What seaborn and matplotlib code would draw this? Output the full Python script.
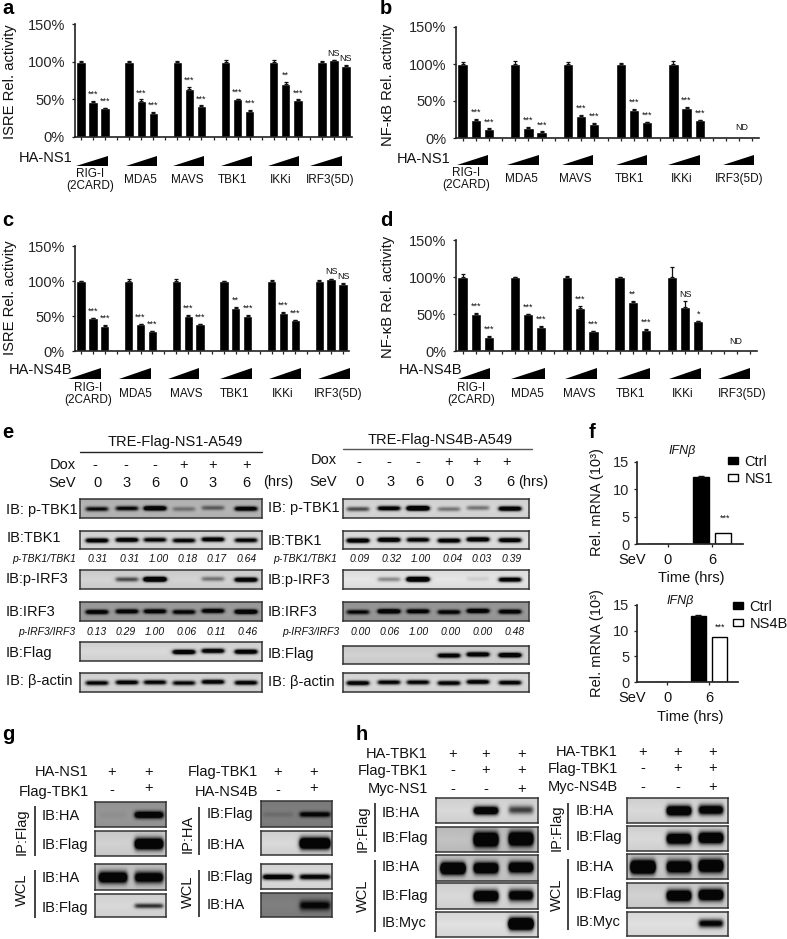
"""Multi-panel figure: reporter assays, western blots and qPCR bars."""
import numpy as np
import pandas as pd
import matplotlib
matplotlib.use('Agg')
import matplotlib.pyplot as plt
import seaborn as sns

W, H = 787, 939

# --- reporter assay values (% of control), one row per stimulus
GROUPS = ['RIG-I\n(2CARD)', 'MDA5', 'MAVS', 'TBK1', 'IKKi', 'IRF3(5D)']
A_VALUES = [[100, 47, 38], [100, 48, 32], [100, 64, 41], [100, 50, 35], [100, 70, 49], [100, 102, 94]]
A_ERRORS = [[1, 1, 1], [1.5, 2, 1], [1.5, 2, 1], [2.5, 1, 1], [2, 3, 1], [1, 0.5, 1]]
A_MARKS = [['', '***', '***'], ['', '***', '***'], ['', '***', '***'], ['', '***', '***'], ['', '**', '***'], ['', 'NS', 'NS']]
B_VALUES = [[100, 25, 12], [100, 14, 8], [100, 30, 19], [100, 38, 21], [100, 41, 24]]
B_ERRORS = [[2.5, 1, 1], [4, 1, 1], [2.5, 1, 1], [2, 1, 1], [4, 1, 1]]
B_MARKS = [['', '***', '***']] * 5
C_VALUES = [[100, 47, 36], [100, 38, 28], [100, 50, 38], [100, 62, 50], [100, 55, 44], [100, 103, 96]]
C_ERRORS = [[0.5, 0.5, 1], [3, 1, 0.5], [3, 1, 0.5], [0.5, 1.5, 1], [1.5, 1, 0.5], [1, 0.5, 1]]
C_MARKS = [['', '***', '***'], ['', '***', '***'], ['', '***', '***'], ['', '**', '***'], ['', '***', '***'], ['', 'NS', 'NS']]
D_VALUES = [[100, 50, 19], [100, 50, 33], [100, 58, 27], [100, 66, 29], [100, 60, 40]]
D_ERRORS = [[4, 2, 1.5], [0.5, 0.5, 0.5], [2, 3, 0.5], [0.5, 1.5, 0.5], [14, 8, 1]]
D_MARKS = [['', '***', '***'], ['', '***', '***'], ['', '***', '***'], ['', '**', '***'], ['', 'NS', '*']]

# --- qPCR values (panel f)
F_TIMES = ['0', '6']
F1_CTRL = [0, 12.2]
F1_NS1 = [0, 2.1]
F2_CTRL = [0, 12.8]
F2_NS4B = [0, 8.7]

# --- blot band strengths, read by eye (lanes left to right)
E_LABELS_DOX = ['-', '-', '-', '+', '+', '+']
E_LABELS_SEV = ['0', '3', '6', '0', '3', '6']
E1_RATIO_TBK1 = ['0.31', '0.31', '1.00', '0.18', '0.17', '0.64']
E1_RATIO_IRF3 = ['0.13', '0.29', '1.00', '0.06', '0.11', '0.46']
E2_RATIO_TBK1 = ['0.09', '0.32', '1.00', '0.04', '0.03', '0.39']
E2_RATIO_IRF3 = ['0.00', '0.06', '1.00', '0.00', '0.00', '0.48']
E1_BANDS = [[.75, .8, 1.2, .3, .4, 1.0], [1.0, 1.0, .85, .85, 1.0, .85], [0, .5, 1.5, 0, .35, 1.1],
            [1.0, 1.0, 1.0, .9, 1.0, 1.2], [0, 0, 0, 1.1, 1.0, 1.1], [.85, .9, .85, .8, .95, .9]]
E1_BACK = [.72, .86, .83, .62, .85, .85]
E2_BANDS = [[.5, .95, 1.4, .35, .35, 1.1], [1.1, 1.1, .9, 1.0, 1.1, 1.0], [0, .3, 1.5, 0, .08, 1.0],
            [.8, 1.2, 1.0, .9, 1.1, 1.0], [0, 0, 0, 1.0, 1.1, 1.2], [.95, .85, .85, .9, .95, .9]]
E2_BACK = [.85, .88, .9, .6, .82, .86]
G1_BANDS = [[.05, 1.2], [0, 1.4], [1.3, 1.1], [0, .6]]
G1_BACK = [.6, .82, .78, .85]
G2_BANDS = [[.12, .9], [0, 1.5], [1.0, .9], [0, .85]]
G2_BACK = [.5, .85, .87, .5]
H1_BANDS = [[0, 1.2, .55], [0, 1.6, 1.5], [1.8, 1.4, 1.3], [0, 1.4, 1.1], [0, 0, 1.8]]
H1_BACK = [.85, .76, .78, .85, .88]
H2_BANDS = [[0, 1.4, 1.1], [0, 1.3, 1.4], [1.8, 1.3, 1.5], [0, 1.4, 1.4], [0, 0, .85]]
H2_BACK = [.85, .85, .8, .82, .88]

sns.set_theme(style='white')
plt.rcParams['font.family'] = ['Liberation Sans', 'DejaVu Sans']
plt.rcParams['text.color'] = '#111111'

fig = plt.figure(figsize=(W / 100, H / 100), dpi=100)


def px_axes(x0, y0, x1, y1):
    """Axes placed by pixel box, y measured from the top of the figure."""
    return fig.add_axes([x0 / W, 1 - y1 / H, (x1 - x0) / W, (y1 - y0) / H])


def assay_panel(box, values, errors, marks, ylabel_text):
    x0, y0, x1, y1 = box
    ax = px_axes(x0, y0, x1, y1)
    rows = []
    for g, vals in enumerate(values):
        for j, v in enumerate(vals):
            rows.append({'slot': g * 4 + j, 'value': v, 'err': errors[g][j], 'mark': marks[g][j]})
    df = pd.DataFrame(rows)
    sns.barplot(data=df, x='slot', y='value', order=list(range(23)), color='black',
                saturation=1, width=0.78, errorbar=None, ax=ax)
    ax.errorbar(df['slot'], df['value'], yerr=[np.zeros(len(df)), df['err']], fmt='none',
                ecolor='#111111', elinewidth=0.9, capsize=1.5, capthick=0.9)
    for _, r in df.iterrows():
        if r['mark']:
            ms = 6.4 if r['mark'] == 'NS' else 6.5
            ax.annotate(r['mark'], (r['slot'], r['value'] + r['err']), xytext=(0, 1.5),
                        textcoords='offset points', ha='center', va='bottom', fontsize=ms)
    ax.set_xlim(-0.5, 22.5)
    ax.set_ylim(0, 150)
    ax.set_yticks([0, 50, 100, 150])
    ax.set_yticklabels(['0%', '50%', '100%', '150%'], fontsize=10.5)
    ax.set_xticklabels([])
    ax.set_xlabel('')
    ax.set_ylabel('')
    ax.tick_params(axis='both', length=2.5, width=0.9, bottom=True, left=True, color='#222222', pad=1.5)
    ax.tick_params(axis='y', pad=4.7)
    ax.patch.set_alpha(0)
    sns.despine(ax=ax)
    for s in ['left', 'bottom']:
        ax.spines[s].set_color('#222222')
        ax.spines[s].set_linewidth(1.2)
    return ax


def qpcr_panel(box, xlim, ctrl, treat, treat_name, legend_xy):
    x0, y0, x1, y1 = box
    ax = px_axes(x0, y0, x1, y1)
    df = pd.DataFrame({'time': F_TIMES * 2, 'value': ctrl + treat,
                       'group': ['Ctrl'] * 2 + [treat_name] * 2})
    sns.barplot(data=df, x='time', y='value', hue='group', palette=['black', 'white'], saturation=1,
                width=1.0, gap=0.3, edgecolor='black', linewidth=1, errorbar=None, ax=ax)
    ax.errorbar([0.75], [ctrl[1]], yerr=[[0], [0.3]], fmt='none', ecolor='#111111', elinewidth=0.9, capsize=2.5)
    ax.set_xlim(*xlim)
    ax.set_ylim(0, 15)
    ax.set_yticks([0, 5, 10, 15])
    ax.set_yticklabels(['0', '5', '10', '15'], fontsize=10.5)
    ax.set_xticklabels([])
    ax.set_xlabel('')
    ax.set_ylabel('')
    ax.tick_params(axis='both', length=2.5, width=0.9, bottom=True, left=True, color='#222222', pad=3)
    ax.patch.set_alpha(0)
    sns.despine(ax=ax)
    handles, labels = ax.get_legend_handles_labels()
    ax.legend(handles, labels, loc='upper left', bbox_to_anchor=(legend_xy[0] / W, 1 - legend_xy[1] / H),
              bbox_transform=fig.transFigure, frameon=False, fontsize=10.5, handlelength=0.7,
              handleheight=0.35, handletextpad=0.42, labelspacing=0.2, borderpad=0, borderaxespad=0)
    return ax


def blot(x0, y0, x1, y1, lanes, bands, back, half, sigma):
    """One blot strip drawn as a grey heatmap, 1 cell per pixel."""
    ax = px_axes(x0, y0, x1, y1)
    nx, ny = int(x1 - x0), int(y1 - y0)
    xs = np.arange(nx)[None, :] + x0 + 0.5
    ys = np.arange(ny)[:, None] + 0.5
    dark = np.zeros((ny, nx))
    for lane, strength in zip(lanes, bands):
        across = 0.5 * (np.tanh((xs - lane + half) / 2.2) - np.tanh((xs - lane - half) / 2.2))
        # bands are a little thinner at the ends
        yc = ny * 0.5 + 0.6 * np.sin((lane - x0) * 0.13)
        down = np.exp(-((ys - yc) ** 2) / (2 * sigma ** 2))
        dark = dark + strength * across * down
    dark = np.clip(dark * 1.35, 0, 1)
    side = 1 - 0.05 * np.abs(ys / ny - 0.5) * 2
    img = back * side * (1 - dark) + 0.02 * dark
    sns.heatmap(img, vmin=0, vmax=1, cmap='gray', cbar=False, xticklabels=False, yticklabels=False, ax=ax)
    for s in ax.spines.values():
        s.set_visible(True)
        s.set_color('#333333')
        s.set_linewidth(1.1)
    return ax


assay_panel((75, 24, 352, 137), A_VALUES, A_ERRORS, A_MARKS, 'ISRE Rel. activity')
assay_panel((456, 27, 759, 138), B_VALUES, B_ERRORS, B_MARKS, 'NF-κB Rel. activity')
assay_panel((75, 246, 349, 351), C_VALUES, C_ERRORS, C_MARKS, 'ISRE Rel. activity')
assay_panel((456, 240, 757, 351), D_VALUES, D_ERRORS, D_MARKS, 'NF-κB Rel. activity')

qpcr_panel((637, 462, 743, 544), (-0.70, 1.70), F1_CTRL, F1_NS1, 'NS1', (728, 455))
qpcr_panel((637, 605, 738, 682), (-0.71, 1.69), F2_CTRL, F2_NS4B, 'NS4B', (733, 600))

# --- western blots
E_ROWS_1 = [(499, 518), (531, 549), (570, 589), (602, 621), (642, 661), (673, 692)]
E_ROWS_2 = [(499, 518), (531, 549), (570, 589), (602, 621), (646, 664), (673, 692)]
E1_LANES = [97, 127, 155, 184, 213, 246]
E2_LANES = [358, 389, 418, 449, 478, 510]
for (y0, y1), b, bg in zip(E_ROWS_1, E1_BANDS, E1_BACK):
    blot(80, y0, 262, y1, E1_LANES, b, bg, 11, 1.7)
for (y0, y1), b, bg in zip(E_ROWS_2, E2_BANDS, E2_BACK):
    blot(343, y0, 529, y1, E2_LANES, b, bg, 11, 1.7)

G1_ROWS = [(802, 827), (831, 856), (864, 890), (894, 917)]
G2_ROWS = [(801, 827), (831, 855), (864, 889), (893, 917)]
for (y0, y1), b, bg, sg in zip(G1_ROWS, G1_BANDS, G1_BACK, [2.5, 4, 4, 1.8]):
    blot(95, y0, 166, y1, [113, 149], b, bg, 14, sg)
for (y0, y1), b, bg, sg in zip(G2_ROWS, G2_BANDS, G2_BACK, [2, 4, 2, 3.5]):
    blot(261, y0, 332, y1, [278, 315], b, bg, 15, sg)

H1_ROWS = [(798, 823), (827, 852), (855, 881), (883, 909), (912, 937)]
H2_ROWS = [(798, 823), (826, 851), (854, 879), (883, 908), (912, 936)]
for (y0, y1), b, bg, sg in zip(H1_ROWS, H1_BANDS, H1_BACK, [3, 5, 4, 4, 4]):
    blot(436, y0, 538, y1, [453, 486, 521], b, bg, 12, sg)
for (y0, y1), b, bg, sg in zip(H2_ROWS, H2_BANDS, H2_BACK, [3.5, 4, 4.5, 4, 3]):
    blot(627, y0, 728, y1, [643, 679, 711], b, bg, 12, sg)

# --- everything else lives on one overlay in pixel coordinates
ov = fig.add_axes([0, 0, 1, 1], zorder=10)
ov.set_xlim(0, W)
ov.set_ylim(H, 0)
ov.axis('off')
ov.patch.set_alpha(0)


def T(x, y, s, ha='left', size=10.5, **kw):
    ov.text(x, y, s, ha=ha, va='center', fontsize=size, **kw)


def wedge(x0, x1, y_low, y_high):
    ov.fill([x0, x1, x1], [y_low, y_low, y_high], color='black', lw=0)


def vline(x, y0, y1):
    ov.plot([x, x], [y0, y1], color='#222222', lw=1.2, solid_capstyle='butt')


for s, x, y in [('a', 2, 9), ('b', 380, 9), ('c', 2, 220), ('d', 380, 220),
                ('e', 2, 433), ('f', 589, 432), ('g', 2, 734), ('h', 356, 734)]:
    T(x, y, s, size=14.5, fontweight='bold', color='black')

for x, y, s in [(10, 82, 'ISRE Rel. activity'), (388, 85, 'NF-κB Rel. activity'),
                (10, 298, 'ISRE Rel. activity'), (388, 297, 'NF-κB Rel. activity')]:
    T(x, y, s, ha='center', rotation=90, size=10.6)

# wedges and stimulus names under each assay panel
A_WEDGES = [(76, 108), (126, 157), (173, 204), (221, 252), (268, 299), (310, 342)]
B_WEDGES = [(457, 488), (507, 539), (562, 593), (616, 647), (668, 700), (723, 754)]
C_WEDGES = [(68, 101), (119, 151), (168, 199), (220, 252), (269, 301), (318, 350)]
D_WEDGES = [(458, 490), (511, 545), (565, 597), (617, 650), (669, 701), (718, 750)]
for w, yl, yh in [(A_WEDGES, 166, 156), (B_WEDGES, 165, 155), (C_WEDGES, 379, 368), (D_WEDGES, 379, 368)]:
    for x0, x1 in w:
        wedge(x0, x1, yl, yh)
T(72, 158, 'HA-NS1', ha='right')
T(451, 159, 'HA-NS1', ha='right')
T(72, 370, 'HA-NS4B', ha='right')
T(462, 370, 'HA-NS4B', ha='right')

A_NAME_X = [90, 140, 187, 233, 281, 330]
B_NAME_X = [466, 521, 575, 630, 682, 739]
C_NAME_X = [88, 135, 186, 235, 283, 338]
D_NAME_X = [471, 527, 579, 631, 683, 742]
for xs, y1 in [(A_NAME_X, 180), (B_NAME_X, 179), (C_NAME_X, 394), (D_NAME_X, 394)]:
    for x, name in zip(xs, GROUPS):
        T(x, y1, name, ha='center', size=8.5, linespacing=0.95)
T(742, 127, 'ND', ha='center', size=6.4)
T(736, 341, 'ND', ha='center', size=6.4)

# panel e headers
T(175, 442, 'TRE-Flag-NS1-A549', ha='center')
ov.plot([80, 262], [452, 452], color='#222222', lw=1)
T(440, 440, 'TRE-Flag-NS4B-A549', ha='center')
ov.plot([343, 532], [449, 449], color='#555555', lw=1)
T(76, 465, 'Dox', ha='right')
T(76, 483, 'SeV', ha='right')
T(337, 460, 'Dox', ha='right')
T(337, 482, 'SeV', ha='right')
for x, d in zip([95, 126, 155, 184, 213, 247], E_LABELS_DOX):
    T(x, 465, d, ha='center')
for x, s in zip([97, 127, 155, 184, 213, 246], E_LABELS_SEV):
    T(x, 483, s, ha='center')
for x, d in zip([359, 389, 418, 449, 477, 507], E_LABELS_DOX):
    T(x, 462, d, ha='center')
for x, s in zip([359, 391, 419, 449, 478, 510], E_LABELS_SEV):
    T(x, 482, s, ha='center')
T(278, 482, '(hrs)', ha='center')
T(533, 482, '(hrs)', ha='center')

for x, y, s in [(6, 510, 'IB: p-TBK1'), (7, 538, 'IB:TBK1'), (6, 579, 'IB:p-IRF3'), (6, 612, 'IB:IRF3'),
                (6, 653, 'IB:Flag'), (6, 681, 'IB: β-actin'),
                (268, 508, 'IB: p-TBK1'), (268, 541, 'IB:TBK1'), (268, 580, 'IB:p-IRF3'), (268, 612, 'IB:IRF3'),
                (268, 654, 'IB:Flag'), (268, 682, 'IB: β-actin')]:
    T(x, y, s)

for x, y, s in [(76, 559, 'p-TBK1/TBK1'), (75, 632, 'p-IRF3/IRF3'), (337, 559, 'p-TBK1/TBK1'), (339, 632, 'p-IRF3/IRF3')]:
    T(x, y, s, ha='right', size=7.5, fontstyle='italic')
for xs, y, vals in [([98, 130, 159, 188, 217, 247], 559, E1_RATIO_TBK1),
                    ([97, 126, 155, 187, 216, 248], 632, E1_RATIO_IRF3),
                    ([360, 392, 421, 453, 482, 512], 559, E2_RATIO_TBK1),
                    ([361, 390, 419, 451, 483, 515], 632, E2_RATIO_IRF3)]:
    for x, v in zip(xs, vals):
        T(x, y, v, ha='center', size=7.5, fontstyle='italic')

# panel f labels
T(682, 451, 'IFNβ', ha='center', size=9, fontstyle='italic')
T(680, 601, 'IFNβ', ha='center', size=9, fontstyle='italic')
T(597, 502, 'Rel. mRNA (10³)', ha='center', rotation=90)
T(597, 643, 'Rel. mRNA (10³)', ha='center', rotation=90)
T(646, 560, 'SeV', ha='right')
T(668, 560, '0', ha='center')
T(712, 560, '6', ha='center')
T(691, 578, 'Time (hrs)', ha='center')
T(646, 698, 'SeV', ha='right')
T(667, 698, '0', ha='center')
T(709, 698, '6', ha='center')
T(690, 717, 'Time (hrs)', ha='center')
T(725, 518, '***', ha='center', size=6.5)
T(720, 627, '***', ha='center', size=6.5)

# panel g labels
T(89, 772, 'HA-NS1', ha='right')
T(89, 792, 'Flag-TBK1', ha='right')
T(258, 772, 'Flag-TBK1', ha='right')
T(258, 792, 'HA-NS4B', ha='right')
for x, y, s in [(112, 772, '+'), (149, 772, '+'), (112, 790, '-'), (149, 788, '+'),
                (278, 772, '+'), (314, 772, '+'), (278, 790, '-'), (314, 788, '+')]:
    T(x, y, s, ha='center')
T(22, 832, 'IP:Flag', ha='center', rotation=90)
T(22, 890, 'WCL', ha='center', rotation=90)
vline(35, 806, 856)
vline(35, 870, 918)
T(188, 834, 'IP:HA', ha='center', rotation=90)
T(188, 892, 'WCL', ha='center', rotation=90)
vline(199, 807, 855)
vline(199, 870, 917)
for x, y, s in [(42, 816, 'IB:HA'), (42, 845, 'IB:Flag'), (42, 878, 'IB:HA'), (42, 908, 'IB:Flag'),
                (207, 814, 'IB:Flag'), (207, 845, 'IB:HA'), (207, 877, 'IB:Flag'), (207, 905, 'IB:HA')]:
    T(x, y, s)

# panel h labels
T(428, 754, 'HA-TBK1', ha='right')
T(428, 771, 'Flag-TBK1', ha='right')
T(428, 789, 'Myc-NS1', ha='right')
T(618, 752, 'HA-TBK1', ha='right')
T(618, 769, 'Flag-TBK1', ha='right')
T(618, 787, 'Myc-NS4B', ha='right')
H_SIGNS = [['+', '+', '+'], ['-', '+', '+'], ['-', '-', '+']]
for xs, ys in [([453, 486, 522], [754, 770, 789]), ([643, 678, 713], [752, 768, 787])]:
    for y, row in zip(ys, H_SIGNS):
        for x, s in zip(xs, row):
            T(x, y, s, ha='center')
T(363, 829, 'IP:Flag', ha='center', rotation=90)
T(363, 896, 'WCL', ha='center', rotation=90)
vline(375, 803, 852)
vline(375, 860, 932)
T(557, 828, 'IP:Flag', ha='center', rotation=90)
T(557, 895, 'WCL', ha='center', rotation=90)
vline(568, 803, 850)
vline(568, 859, 930)
for x, y, s in [(382, 813, 'IB:HA'), (382, 838, 'IB:Flag'), (382, 867, 'IB:HA'), (382, 896, 'IB:Flag'), (382, 923, 'IB:Myc'),
                (576, 811, 'IB:HA'), (576, 837, 'IB:Flag'), (576, 867, 'IB:HA'), (576, 894, 'IB:Flag'), (576, 922, 'IB:Myc')]:
    T(x, y, s)

fig.savefig('out.png', dpi=100)
